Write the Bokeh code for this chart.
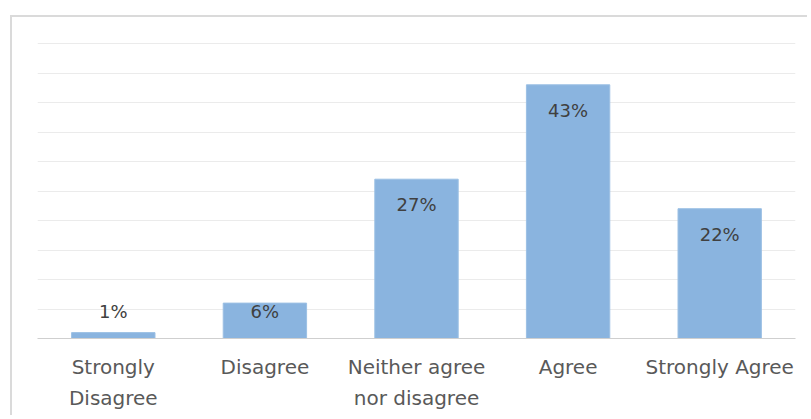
from bokeh.plotting import figure
from bokeh.models import ColumnDataSource, FactorRange
from bokeh.core.properties import value
from bokeh.embed import file_html
from bokeh.resources import INLINE

# Survey response shares (percent)
categories = ["Strongly\nDisagree", "Disagree", "Neither agree\nnor disagree", "Agree", "Strongly Agree"]
shares = [1, 6, 27, 43, 22]

label_text = [f"{v}%" for v in shares]
# value labels sit just inside the top of each bar, never below a minimum height
label_y = [max(v - 4.3, 4.6) for v in shares]

source = ColumnDataSource(dict(cat=categories, share=shares, txt=label_text, ly=label_y))

FONT = "DejaVu Sans"

p = figure(
    x_range=FactorRange(*categories, range_padding=0),
    y_range=(0, 50.17),
    width=797, height=400,
    margin=(15, 0, 0, 10),
    styles={"border-top": "2px solid #dadada", "border-left": "2px solid #dadada"},
    output_backend="svg", toolbar_location=None,
    min_border_left=25, min_border_right=14, min_border_top=25, min_border_bottom=79,
)
p.outline_line_color = None
p.background_fill_color = "white"
p.border_fill_color = "white"

p.vbar(x="cat", top="share", width=0.55, source=source,
       fill_color="#8ab4df", line_color="#9cc0e4", line_width=1)

p.text(x="cat", y="ly", text="txt", source=source,
       text_align="center", text_baseline="middle",
       text_font=value(FONT), text_font_size="18px", text_color="#404040")

# horizontal gridlines every 5 points, hidden value axis
p.yaxis.visible = False
p.ygrid.ticker = list(range(5, 51, 5))
p.ygrid.grid_line_color = "#ebebeb"
p.ygrid.grid_line_width = 1
p.xgrid.grid_line_color = None

ax = p.xaxis[0]
ax.axis_line_color = "#cfcfcf"
ax.axis_line_width = 1
ax.major_tick_line_color = None
ax.minor_tick_line_color = None
ax.major_label_text_font = FONT
ax.major_label_text_font_size = "20px"
ax.major_label_text_color = "#595959"
ax.major_label_text_line_height = 1.33
ax.major_label_standoff = 10
ax.major_label_orientation = "horizontal"

open("out.html", "w").write(file_html(p, INLINE))
